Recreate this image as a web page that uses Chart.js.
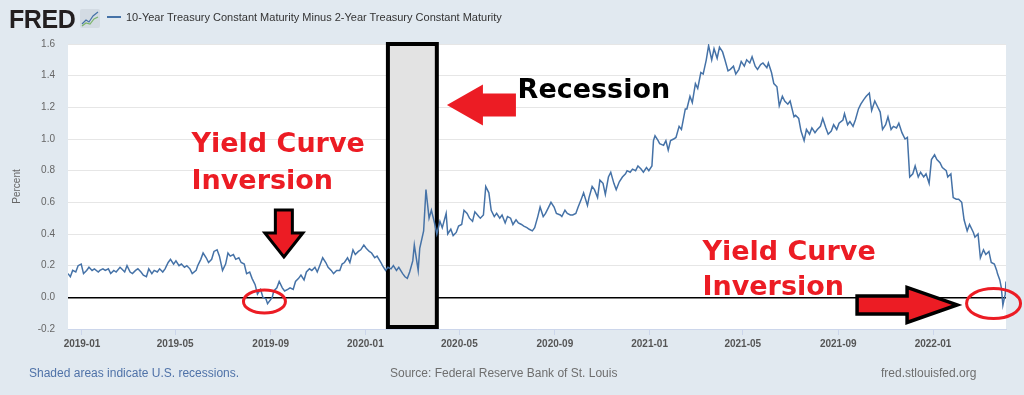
<!DOCTYPE html>
<html>
<head>
<meta charset="utf-8">
<title>10-Year Treasury Constant Maturity Minus 2-Year Treasury Constant Maturity</title>
<script src="https://cdn.jsdelivr.net/npm/chart.js@4.4.1/dist/chart.umd.min.js"></script>
<style>
  html, body { margin: 0; padding: 0; }
  body {
    width: 1024px; height: 395px; position: relative; overflow: hidden;
    background: #e1e9f0;
    font-family: 'Liberation Sans', Arial, sans-serif;
  }
  #chart { position: absolute; left: 0; top: 0; }
  .abs { position: absolute; white-space: nowrap; line-height: 1; }
  #logo { left: 9px; top: 7px; font-size: 25px; font-weight: bold; color: #231f20; letter-spacing: -0.4px; }
  #icon { left: 80px; top: 9px; }
  #legend-line { left: 107px; top: 16px; width: 14px; height: 2px; background: #4572a7; }
  #series-title { left: 126px; top: 12px; font-size: 11px; color: #333; }
  .foot { top: 367px; font-size: 12px; color: #6e6e6e; }
  #shaded { left: 29px; color: #4f72a8; }
  #source { left: 390px; }
  #site { left: 881px; }
</style>
</head>
<body>
<canvas id="chart" width="1024" height="395"></canvas>

<div class="abs" id="logo">FRED</div>
<svg class="abs" id="icon" width="20" height="19" viewBox="0 0 20 19">
  <rect x="0" y="0" width="20" height="19" rx="2" fill="#d3dbe3"/>
  <polyline points="2,15 6,11 9,13 13,7 18,3" fill="none" stroke="#4572a7" stroke-width="1.2"/>
  <polyline points="2,17 6,14 10,15 14,10 18,8" fill="none" stroke="#7cb56b" stroke-width="1.2"/>
</svg>
<div class="abs" id="legend-line"></div>
<div class="abs" id="series-title">10-Year Treasury Constant Maturity Minus 2-Year Treasury Constant Maturity</div>

<div class="abs foot" id="shaded">Shaded areas indicate U.S. recessions.</div>
<div class="abs foot" id="source">Source: Federal Reserve Bank of St. Louis</div>
<div class="abs foot" id="site">fred.stlouisfed.org</div>

<script>
const dates = [
  '2018-12-14','2018-12-17','2018-12-20','2018-12-24','2018-12-27','2018-12-31',
  '2019-01-03','2019-01-07','2019-01-10','2019-01-14','2019-01-17','2019-01-22','2019-01-24','2019-01-28','2019-01-31',
  '2019-02-04','2019-02-07','2019-02-11','2019-02-14','2019-02-19','2019-02-21','2019-02-25','2019-02-28',
  '2019-03-04','2019-03-07','2019-03-11','2019-03-14','2019-03-18','2019-03-21','2019-03-25','2019-03-28',
  '2019-04-01','2019-04-04','2019-04-08','2019-04-11','2019-04-15','2019-04-18','2019-04-22','2019-04-25','2019-04-29',
  '2019-05-02','2019-05-06','2019-05-09','2019-05-13','2019-05-16','2019-05-20','2019-05-23','2019-05-28','2019-05-30',
  '2019-06-03','2019-06-06','2019-06-10','2019-06-13','2019-06-17','2019-06-20','2019-06-24','2019-06-27',
  '2019-07-01','2019-07-05','2019-07-08','2019-07-11','2019-07-15','2019-07-18','2019-07-22','2019-07-25','2019-07-29',
  '2019-08-01','2019-08-05','2019-08-08','2019-08-12','2019-08-15','2019-08-19','2019-08-22','2019-08-26','2019-08-28',
  '2019-09-03','2019-09-05','2019-09-09','2019-09-12','2019-09-16','2019-09-19','2019-09-23','2019-09-26','2019-09-30',
  '2019-10-03','2019-10-07','2019-10-10','2019-10-14','2019-10-17','2019-10-21','2019-10-24','2019-10-28','2019-10-31',
  '2019-11-04','2019-11-07','2019-11-11','2019-11-14','2019-11-18','2019-11-21','2019-11-25','2019-11-29',
  '2019-12-02','2019-12-05','2019-12-09','2019-12-12','2019-12-16','2019-12-19','2019-12-23','2019-12-26','2019-12-30',
  '2020-01-02','2020-01-06','2020-01-09','2020-01-13','2020-01-16','2020-01-21','2020-01-23','2020-01-27','2020-01-30',
  '2020-02-03','2020-02-06','2020-02-10','2020-02-13','2020-02-18','2020-02-21','2020-02-24','2020-02-27',
  '2020-03-02','2020-03-04','2020-03-09','2020-03-11','2020-03-16','2020-03-19','2020-03-23','2020-03-26','2020-03-30',
  '2020-04-02','2020-04-06','2020-04-09','2020-04-14','2020-04-16','2020-04-20','2020-04-23','2020-04-27','2020-04-30',
  '2020-05-04','2020-05-07','2020-05-11','2020-05-14','2020-05-18','2020-05-21','2020-05-26','2020-05-28',
  '2020-06-01','2020-06-04','2020-06-08','2020-06-11','2020-06-15','2020-06-18','2020-06-22','2020-06-25','2020-06-29',
  '2020-07-02','2020-07-06','2020-07-09','2020-07-13','2020-07-16','2020-07-20','2020-07-23','2020-07-27','2020-07-30',
  '2020-08-03','2020-08-06','2020-08-10','2020-08-13','2020-08-17','2020-08-20','2020-08-24','2020-08-27','2020-08-31',
  '2020-09-03','2020-09-08','2020-09-10','2020-09-14','2020-09-17','2020-09-21','2020-09-24','2020-09-28',
  '2020-10-01','2020-10-05','2020-10-08','2020-10-13','2020-10-15','2020-10-19','2020-10-22','2020-10-26','2020-10-29',
  '2020-11-02','2020-11-05','2020-11-09','2020-11-12','2020-11-16','2020-11-19','2020-11-23','2020-11-27',
  '2020-12-01','2020-12-03','2020-12-07','2020-12-10','2020-12-14','2020-12-17','2020-12-21','2020-12-24','2020-12-28','2020-12-31',
  '2021-01-04','2021-01-06','2021-01-08','2021-01-12','2021-01-14','2021-01-19','2021-01-22','2021-01-25','2021-01-28',
  '2021-02-01','2021-02-04','2021-02-08','2021-02-11','2021-02-16','2021-02-18','2021-02-22','2021-02-25',
  '2021-03-01','2021-03-04','2021-03-08','2021-03-11','2021-03-15','2021-03-18','2021-03-22','2021-03-25','2021-03-29',
  '2021-04-01','2021-04-05','2021-04-08','2021-04-12','2021-04-15','2021-04-19','2021-04-22','2021-04-26','2021-04-29',
  '2021-05-03','2021-05-06','2021-05-10','2021-05-13','2021-05-17','2021-05-20','2021-05-24','2021-05-27',
  '2021-06-01','2021-06-03','2021-06-07','2021-06-10','2021-06-14','2021-06-17','2021-06-21','2021-06-24','2021-06-28',
  '2021-07-01','2021-07-06','2021-07-08','2021-07-12','2021-07-15','2021-07-19','2021-07-22','2021-07-26','2021-07-29',
  '2021-08-02','2021-08-05','2021-08-09','2021-08-12','2021-08-16','2021-08-19','2021-08-23','2021-08-26','2021-08-30',
  '2021-09-02','2021-09-07','2021-09-09','2021-09-13','2021-09-16','2021-09-20','2021-09-23','2021-09-27','2021-09-30',
  '2021-10-04','2021-10-07','2021-10-11','2021-10-14','2021-10-18','2021-10-21','2021-10-25','2021-10-28',
  '2021-11-01','2021-11-04','2021-11-08','2021-11-11','2021-11-15','2021-11-18','2021-11-22','2021-11-26','2021-11-29',
  '2021-12-02','2021-12-06','2021-12-09','2021-12-13','2021-12-16','2021-12-20','2021-12-23','2021-12-27','2021-12-30',
  '2022-01-03','2022-01-06','2022-01-10','2022-01-13','2022-01-18','2022-01-20','2022-01-24','2022-01-27','2022-01-31',
  '2022-02-03','2022-02-07','2022-02-10','2022-02-14','2022-02-17','2022-02-22','2022-02-24','2022-02-28',
  '2022-03-03','2022-03-07','2022-03-10','2022-03-14','2022-03-17','2022-03-21','2022-03-24','2022-03-25','2022-03-28','2022-03-30',
  '2022-04-01','2022-04-04','2022-04-05'
];

const spread = [
  0.15, 0.13, 0.17, 0.16, 0.20, 0.21,
  0.15, 0.17, 0.19, 0.17, 0.18, 0.16, 0.17, 0.18, 0.17,
  0.18, 0.15, 0.17, 0.16, 0.19, 0.18, 0.16, 0.20,
  0.16, 0.15, 0.17, 0.18, 0.16, 0.14, 0.13, 0.18,
  0.15, 0.17, 0.16, 0.18, 0.16, 0.18, 0.22, 0.24, 0.21,
  0.23, 0.20, 0.21, 0.19, 0.20, 0.18, 0.15, 0.17, 0.20,
  0.24, 0.28, 0.25, 0.22, 0.24, 0.29, 0.30, 0.26,
  0.17, 0.21, 0.28, 0.26, 0.27, 0.24, 0.25, 0.22, 0.21,
  0.15, 0.16, 0.12, 0.08, 0.02, 0.05, 0.00, -0.01, -0.04,
  0.00, 0.04, 0.06, 0.10, 0.06, 0.04, 0.05, 0.06, 0.05,
  0.10, 0.12, 0.14, 0.11, 0.16, 0.18, 0.17, 0.19, 0.16,
  0.21, 0.25, 0.22, 0.19, 0.17, 0.15, 0.17, 0.17,
  0.21, 0.22, 0.25, 0.22, 0.30, 0.27, 0.29, 0.30, 0.33,
  0.31, 0.29, 0.28, 0.25, 0.26, 0.22, 0.20, 0.17, 0.19,
  0.18, 0.20, 0.17, 0.19, 0.15, 0.13, 0.12, 0.16,
  0.23, 0.33, 0.17, 0.31, 0.42, 0.68, 0.50, 0.55, 0.47,
  0.40, 0.48, 0.44, 0.53, 0.40, 0.43, 0.39, 0.41, 0.45,
  0.46, 0.55, 0.53, 0.50, 0.48, 0.54, 0.51, 0.50,
  0.52, 0.70, 0.66, 0.55, 0.51, 0.53, 0.50, 0.52, 0.47,
  0.51, 0.50, 0.46, 0.49, 0.47, 0.46, 0.45, 0.44, 0.43,
  0.42, 0.44, 0.51, 0.57, 0.51, 0.53, 0.57, 0.60, 0.57,
  0.53, 0.52, 0.51, 0.55, 0.53, 0.52, 0.52, 0.53,
  0.57, 0.62, 0.66, 0.58, 0.63, 0.70, 0.68, 0.63, 0.74,
  0.72, 0.65, 0.76, 0.79, 0.72, 0.68, 0.73, 0.76,
  0.78, 0.80, 0.79, 0.81, 0.80, 0.83, 0.81, 0.79, 0.82, 0.80,
  0.83, 0.99, 1.02, 0.99, 0.97, 0.96, 0.99, 0.93, 0.99,
  1.00, 1.01, 1.08, 1.06, 1.19, 1.19, 1.27, 1.23,
  1.35, 1.32, 1.42, 1.41, 1.50, 1.59, 1.50, 1.57, 1.51,
  1.58, 1.55, 1.50, 1.43, 1.44, 1.46, 1.41, 1.44, 1.49,
  1.46, 1.50, 1.48, 1.52, 1.46, 1.44, 1.47, 1.48,
  1.45, 1.48, 1.42, 1.35, 1.33, 1.21, 1.27, 1.24, 1.22,
  1.24, 1.14, 1.15, 1.13, 1.05, 0.99, 1.06, 1.03, 1.07,
  1.04, 1.06, 1.08, 1.13, 1.07, 1.03, 1.05, 1.09, 1.06,
  1.10, 1.12, 1.16, 1.09, 1.11, 1.08, 1.12, 1.19, 1.22,
  1.25, 1.27, 1.29, 1.18, 1.24, 1.21, 1.17, 1.06,
  1.09, 1.14, 1.06, 1.08, 1.07, 1.10, 1.04, 1.00, 1.01,
  0.76, 0.78, 0.83, 0.76, 0.79, 0.76, 0.78, 0.72, 0.87,
  0.90, 0.87, 0.85, 0.82, 0.80, 0.76, 0.78, 0.63, 0.62,
  0.62, 0.60, 0.49, 0.42, 0.46, 0.41, 0.38, 0.40,
  0.25, 0.30, 0.27, 0.29, 0.22, 0.21, 0.17, 0.15, 0.11, 0.06,
  -0.05, 0.02, 0.10
];

const tickDates = ['2019-01-01','2019-05-01','2019-09-01','2020-01-01','2020-05-01',
                   '2020-09-01','2021-01-01','2021-05-01','2021-09-01','2022-01-01'];
const tickLabels = ['2019-01','2019-05','2019-09','2020-01','2020-05',
                    '2020-09','2021-01','2021-05','2021-09','2022-01'];

// the recession box as marked on the picture
const recession = ['2020-01-30', '2020-04-02'];

// hand drawn callouts, anchored in data units [date, percent]
const RED = '#ec1c24';
const labels = [
  { text: 'Recession',   at: ['2020-07-15', 1.259], color: '#000' },
  { text: 'Yield Curve', at: ['2019-05-22', 0.918], color: RED },
  { text: 'Inversion',   at: ['2019-05-22', 0.684], color: RED },
  { text: 'Yield Curve', at: ['2021-03-10', 0.236], color: RED },
  { text: 'Inversion',   at: ['2021-03-10', 0.015], color: RED }
];
const arrows = [
  { tip: ['2020-04-15', 1.215], dir: 'left',  len: 69,  head: 36, headHalf: 20.5, shaftHalf: 11.5, outline: 0 },
  { tip: ['2019-09-18', 0.255], dir: 'down',  len: 47,  head: 24, headHalf: 19,   shaftHalf: 8.5,  outline: 3 },
  { tip: ['2022-02-01', -0.048], dir: 'right', len: 100, head: 50, headHalf: 17.5, shaftHalf: 9,    outline: 3.5 }
];
const circles = [
  { at: ['2019-08-24', -0.026], rx: 21, ry: 11.5 },
  { at: ['2022-03-20', -0.039], rx: 27, ry: 15 }
];

const DAY = 86400000;
const toDay = d => (Date.parse(d) - Date.parse('2019-01-01')) / DAY;
const points = dates.map((d, i) => ({ x: toDay(d), y: spread[i] }));
const isZero = v => Math.abs(v) < 1e-9;

Chart.defaults.font.family = "'Liberation Sans', Arial, sans-serif";

const plotBackground = {
  id: 'plotBackground',
  beforeDraw(chart) {
    const { ctx, chartArea: a } = chart;
    ctx.save();
    ctx.fillStyle = '#ffffff';
    ctx.fillRect(a.left, a.top, a.right - a.left, a.bottom - a.top);
    ctx.restore();
  }
};

const recessionBox = {
  id: 'recessionBox',
  beforeDatasetsDraw(chart) {
    const { ctx, chartArea: a, scales: { x } } = chart;
    const x0 = x.getPixelForValue(toDay(recession[0]));
    const x1 = x.getPixelForValue(toDay(recession[1]));
    ctx.save();
    ctx.fillStyle = '#e3e3e3';
    ctx.fillRect(x0, a.top, x1 - x0, a.bottom - a.top);
    ctx.lineWidth = 4;
    ctx.strokeStyle = '#000';
    ctx.strokeRect(x0, a.top, x1 - x0, a.bottom - 2 - a.top);
    ctx.restore();
  }
};

function drawArrow(ctx, tx, ty, a) {
  const angle = { right: 0, down: Math.PI / 2, left: Math.PI }[a.dir];
  ctx.save();
  ctx.translate(tx, ty);
  ctx.rotate(angle);
  ctx.beginPath();
  ctx.moveTo(0, 0);
  ctx.lineTo(-a.head, -a.headHalf);
  ctx.lineTo(-a.head, -a.shaftHalf);
  ctx.lineTo(-a.len, -a.shaftHalf);
  ctx.lineTo(-a.len, a.shaftHalf);
  ctx.lineTo(-a.head, a.shaftHalf);
  ctx.lineTo(-a.head, a.headHalf);
  ctx.closePath();
  ctx.fillStyle = RED;
  ctx.fill();
  if (a.outline) {
    ctx.lineJoin = 'miter';
    ctx.lineWidth = a.outline;
    ctx.strokeStyle = '#000';
    ctx.stroke();
  }
  ctx.restore();
}

const callouts = {
  id: 'callouts',
  afterDraw(chart) {
    const { ctx, scales: { x, y } } = chart;
    const px = at => [x.getPixelForValue(toDay(at[0])), y.getPixelForValue(at[1])];
    ctx.save();
    ctx.font = 'bold 27px "DejaVu Sans"';
    ctx.textAlign = 'left';
    ctx.textBaseline = 'alphabetic';
    labels.forEach(l => {
      const [lx, ly] = px(l.at);
      ctx.fillStyle = l.color;
      ctx.fillText(l.text, lx, ly);
    });
    arrows.forEach(a => {
      const [tx, ty] = px(a.tip);
      drawArrow(ctx, tx, ty, a);
    });
    ctx.strokeStyle = RED;
    ctx.lineWidth = 3;
    circles.forEach(c => {
      const [cx, cy] = px(c.at);
      ctx.beginPath();
      ctx.ellipse(cx, cy, c.rx, c.ry, 0, 0, Math.PI * 2);
      ctx.stroke();
    });
    ctx.restore();
  }
};

new Chart(document.getElementById('chart'), {
  type: 'line',
  data: {
    datasets: [{
      label: '10-Year Treasury Constant Maturity Minus 2-Year Treasury Constant Maturity',
      data: points,
      borderColor: '#4572a7',
      borderWidth: 1.5,
      pointRadius: 0,
      tension: 0,
      fill: false
    }]
  },
  options: {
    responsive: false,
    animation: false,
    devicePixelRatio: 1,
    layout: { padding: { left: 0, right: 18, top: 44, bottom: 0 } },
    plugins: { legend: { display: false }, tooltip: { enabled: false } },
    scales: {
      x: {
        type: 'linear',
        min: toDay(dates[0]),
        max: toDay(dates[dates.length - 1]),
        afterBuildTicks: s => { s.ticks = tickDates.map(d => ({ value: toDay(d) })); },
        afterFit: s => { s.height = 66; },
        grid: { drawOnChartArea: false, tickLength: 6, color: '#ccd6eb' },
        border: { color: '#ccd6eb' },
        ticks: {
          autoSkip: false, maxRotation: 0, padding: 3,
          color: '#555', font: { size: 10, weight: 'bold' },
          callback: (v, i) => tickLabels[i]
        }
      },
      y: {
        min: -0.2,
        max: 1.6,
        afterFit: s => { s.width = 68; },
        grid: {
          drawTicks: false,
          color: c => isZero(c.tick.value) ? '#000' : '#e6e6e6',
          lineWidth: c => isZero(c.tick.value) ? 1.5 : 1
        },
        border: { display: false },
        ticks: {
          stepSize: 0.2, padding: 13,
          color: '#666', font: { size: 10 },
          callback: v => v.toFixed(1)
        },
        title: { display: true, text: 'Percent', color: '#666', font: { size: 10 }, padding: { top: 11 } }
      }
    }
  },
  plugins: [plotBackground, recessionBox, callouts]
});
</script>
</body>
</html>
